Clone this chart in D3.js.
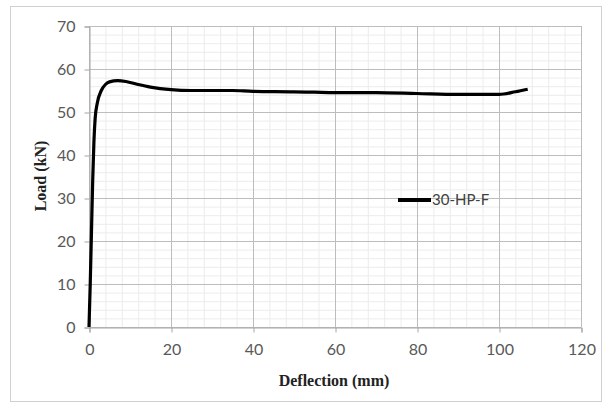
<!DOCTYPE html>
<html>
<head>
<meta charset="utf-8">
<script src="https://cdn.jsdelivr.net/npm/d3@7"></script>
<style>
  body { margin: 0; background: #fff; }
  .tick text { font-family: Lato, "Open Sans", sans-serif; font-size: 16px; fill: #595959; }
</style>
</head>
<body>
<div class="canvas"></div>
<script>
// data
const deflection = [0, 0.3, 0.6, 0.9, 1.2, 1.5, 2, 3, 4, 5, 7, 9, 12, 15, 20, 25, 30, 35, 40, 50, 55, 60, 70, 80, 90, 100, 104, 107];
const load       = [0, 10, 22, 34, 43, 48.5, 52, 55, 56.4, 57, 57.3, 57.1, 56.4, 55.8, 55.2, 55, 55, 55, 54.8, 54.7, 54.6, 54.5, 54.5, 54.3, 54.1, 54.1, 54.7, 55.3];
const xTicks = [0, 20, 40, 60, 80, 100, 120];
const yTicks = [0, 10, 20, 30, 40, 50, 60, 70];
const seriesName = '30-HP-F';

const dims = { width: 609, height: 410 };
const plot = { left: 89, right: 581, top: 26, bottom: 327 };

const svg = d3.select('.canvas')
    .append('svg')
    .attr('width', dims.width)
    .attr('height', dims.height);

// outer frame
svg.append('rect')
    .attr('x', 10.5).attr('y', 6.5)
    .attr('width', 591).attr('height', 395)
    .attr('fill', '#fff')
    .attr('stroke', '#d0d0d0');

const x = d3.scaleLinear().domain([0, 120]).range([plot.left, plot.right]);
const y = d3.scaleLinear().domain([0, 70]).range([plot.bottom, plot.top]);

// minor grid
const grid = svg.append('g');
grid.selectAll('.mx')
    .data(d3.range(0, 121, 4))
    .enter().append('line')
      .attr('x1', d => x(d) + 0.5).attr('x2', d => x(d) + 0.5)
      .attr('y1', plot.top).attr('y2', plot.bottom)
      .attr('stroke', '#ececec');
grid.selectAll('.my')
    .data(d3.range(0, 71, 2))
    .enter().append('line')
      .attr('y1', d => y(d) + 0.5).attr('y2', d => y(d) + 0.5)
      .attr('x1', plot.left).attr('x2', plot.right)
      .attr('stroke', '#ececec');

// major grid
grid.selectAll('.Mx')
    .data(xTicks)
    .enter().append('line')
      .attr('x1', d => x(d) + 0.5).attr('x2', d => x(d) + 0.5)
      .attr('y1', plot.top).attr('y2', plot.bottom)
      .attr('stroke', '#bdbdbd');
grid.selectAll('.My')
    .data(yTicks)
    .enter().append('line')
      .attr('y1', d => y(d) + 0.5).attr('y2', d => y(d) + 0.5)
      .attr('x1', plot.left).attr('x2', plot.right)
      .attr('stroke', '#bdbdbd');

// axes
const xAxis = svg.append('g')
    .attr('transform', `translate(0.5, ${plot.bottom + 0.5})`)
    .call(d3.axisBottom(x).tickValues(xTicks).tickSize(5).tickPadding(11));
const yAxis = svg.append('g')
    .attr('transform', `translate(${plot.left + 0.5}, 0.5)`)
    .call(d3.axisLeft(y).tickValues(yTicks).tickSize(5).tickPadding(9));
[xAxis, yAxis].forEach(a => {
    a.select('.domain').attr('stroke', '#a6a6a6');
    a.selectAll('.tick line').attr('stroke', '#a6a6a6');
});

// curve
const line = d3.line()
    .x((d, i) => x(deflection[i]))
    .y(d => y(d))
    .curve(d3.curveMonotoneX);

svg.append('path')
    .datum(load)
    .attr('d', line)
    .attr('fill', 'none')
    .attr('stroke', '#000')
    .attr('stroke-width', 3.2)
    .attr('stroke-linejoin', 'round');

// legend
svg.append('line')
    .attr('x1', 398).attr('x2', 431)
    .attr('y1', 200).attr('y2', 200)
    .attr('stroke', '#000')
    .attr('stroke-width', 4);
svg.append('text')
    .attr('x', 432).attr('y', 205)
    .attr('font-family', 'Lato, "Open Sans", sans-serif')
    .attr('font-size', 15)
    .attr('fill', '#404040')
    .text(seriesName);

// axis titles
svg.append('text')
    .attr('x', 334).attr('y', 386)
    .attr('text-anchor', 'middle')
    .attr('font-family', '"Liberation Serif", serif')
    .attr('font-weight', 'bold')
    .attr('font-size', 16)
    .attr('fill', '#222')
    .text('Deflection (mm)');
svg.append('text')
    .attr('transform', 'translate(46, 176) rotate(-90)')
    .attr('text-anchor', 'middle')
    .attr('font-family', '"Liberation Serif", serif')
    .attr('font-weight', 'bold')
    .attr('font-size', 16)
    .attr('fill', '#222')
    .text('Load (kN)');
</script>
</body>
</html>
